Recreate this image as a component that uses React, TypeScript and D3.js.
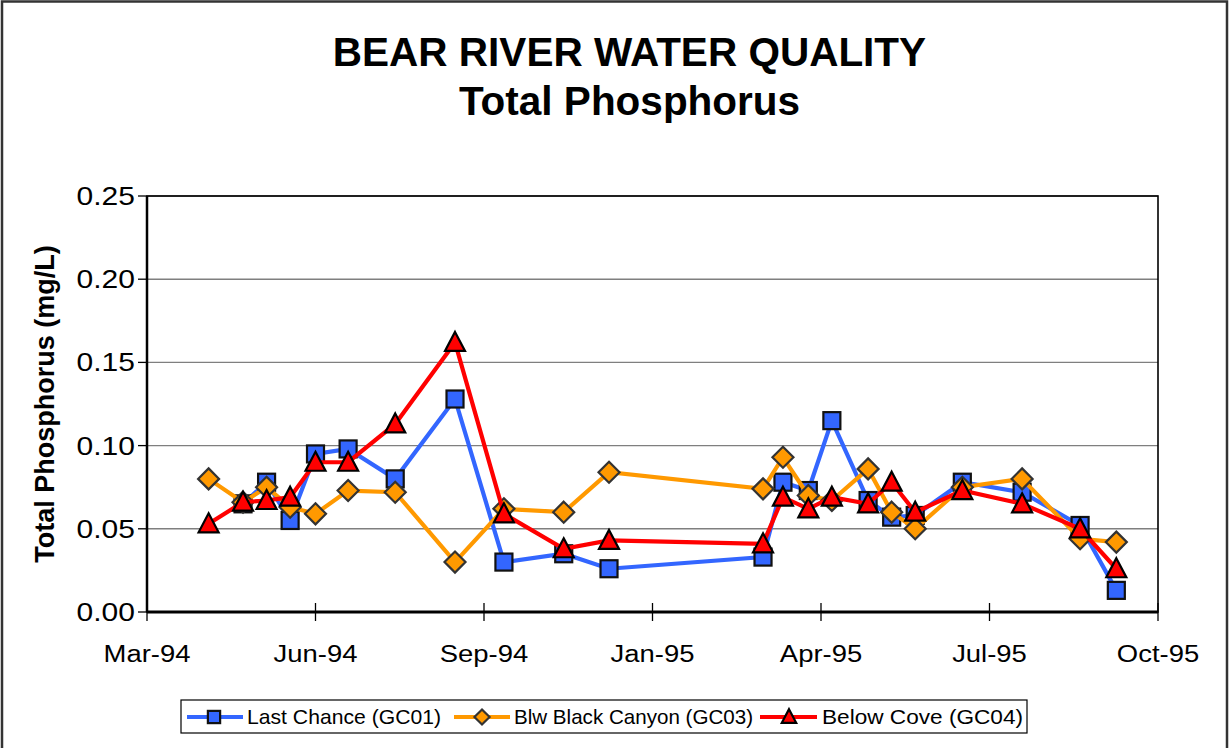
import React from "react";
import * as d3 from "d3";

// ---- Data ----
const lcDates = ["1994-05-20","1994-06-02","1994-06-15","1994-06-29","1994-07-17","1994-08-12","1994-09-14","1994-10-11","1994-11-13","1994-12-08","1995-03-03","1995-03-14","1995-03-28","1995-04-10","1995-04-30","1995-05-13","1995-05-26","1995-06-21","1995-07-24","1995-08-25","1995-09-14"];
const lcValues = [0.065,0.078,0.055,0.095,0.098,0.080,0.128,0.030,0.035,0.026,0.033,0.078,0.073,0.115,0.067,0.057,0.058,0.078,0.072,0.052,0.013];

const bbcDates = ["1994-05-01","1994-05-20","1994-06-02","1994-06-15","1994-06-29","1994-07-17","1994-08-12","1994-09-14","1994-10-11","1994-11-13","1994-12-08","1995-03-03","1995-03-14","1995-03-28","1995-04-10","1995-04-30","1995-05-13","1995-05-26","1995-06-21","1995-07-24","1995-08-25","1995-09-14"];
const bbcValues = [0.080,0.066,0.075,0.063,0.059,0.073,0.072,0.030,0.062,0.060,0.084,0.074,0.093,0.070,0.067,0.086,0.060,0.050,0.075,0.080,0.044,0.042];

const bcDates = ["1994-05-01","1994-05-20","1994-06-02","1994-06-15","1994-06-29","1994-07-17","1994-08-12","1994-09-14","1994-10-11","1994-11-13","1994-12-08","1995-03-03","1995-03-14","1995-03-28","1995-04-10","1995-04-30","1995-05-13","1995-05-26","1995-06-21","1995-07-24","1995-08-25","1995-09-14"];
const bcValues = [0.053,0.066,0.067,0.069,0.090,0.090,0.113,0.162,0.059,0.038,0.043,0.041,0.069,0.062,0.069,0.065,0.078,0.060,0.073,0.065,0.050,0.026];

const seriesNames = ["Last Chance (GC01)", "Blw Black Canyon (GC03)", "Below Cove (GC04)"];
const yTicks = [0, 0.05, 0.10, 0.15, 0.20, 0.25];
const xStart = "1994-03-28";
const xTickStepDays = 93;
const xTickCount = 7;

const FONT = "'Liberation Sans', Arial, Helvetica, sans-serif";

type Pt = { d: Date; v: number };
const parse = d3.utcParse("%Y-%m-%d");
const mk = (ds: string[], vs: number[]): Pt[] => ds.map((s, i) => ({ d: parse(s) as Date, v: vs[i] }));

const series = [
  { name: seriesNames[0], data: mk(lcDates, lcValues), color: "#3366FF", marker: "square" },
  { name: seriesNames[1], data: mk(bbcDates, bbcValues), color: "#FF9900", marker: "diamond" },
  { name: seriesNames[2], data: mk(bcDates, bcValues), color: "#FF0000", marker: "triangle" },
];

function Marker({ type, x, y, color, s = 1 }: { type: string; x: number; y: number; color: string; s?: number }) {
  if (type === "square") {
    const h = 8.5 * s;
    return <rect x={x - h} y={y - h} width={2 * h} height={2 * h} fill={color} stroke="#111" strokeWidth={2.2} />;
  }
  if (type === "diamond") {
    const h = 10.5 * s;
    return <path d={`M${x},${y - h}L${x + h},${y}L${x},${y + h}L${x - h},${y}Z`} fill={color} stroke="#333" strokeWidth={2.2} />;
  }
  const w = 10 * s, hh = 9.5 * s;
  return <path d={`M${x},${y - hh - 1}L${x + w},${y + hh - 1}L${x - w},${y + hh - 1}Z`} fill={color} stroke="#000" strokeWidth={2.2} strokeLinejoin="miter" />;
}

export default function App() {
  const W = 1229, H = 748;
  const L = 147, R = 1158, T = 196, B = 612;
  const t0 = parse(xStart) as Date;
  const tEnd = d3.utcDay.offset(t0, xTickStepDays * (xTickCount - 1));
  const x = d3.scaleUtc().domain([t0, tEnd]).range([L, R]);
  const y = d3.scaleLinear().domain([0, 0.25]).range([B, T]);
  const xTicks = d3.range(xTickCount).map((i) => d3.utcDay.offset(t0, i * xTickStepDays));
  const fmtX = d3.utcFormat("%b-%y");
  const fmtY = d3.format(".2f");
  const line = d3.line<Pt>().x((p) => x(p.d)).y((p) => y(p.v));

  const legendItems = [
    { lx1: 187, lx2: 243, mx: 214, tx: 247, tw: 194 },
    { lx1: 454, lx2: 510, mx: 482, tx: 514, tw: 239 },
    { lx1: 760, lx2: 817, mx: 789, tx: 822, tw: 201 },
  ];

  return (
    <svg width={W} height={H} style={{ position: "absolute", left: 0, top: 0 }} fontFamily={FONT}>
      <rect x={0} y={0} width={W} height={H} fill="#fff" />
      <rect x={2} y={1.5} width={1225} height={760} fill="none" stroke="#333" strokeWidth={2.5} />

      {/* Title */}
      <text x={629.5} y={66} textAnchor="middle" fontSize={40.5} fontWeight="bold">BEAR RIVER WATER QUALITY</text>
      <text x={629.5} y={115} textAnchor="middle" fontSize={40.5} fontWeight="bold">Total Phosphorus</text>

      {/* gridlines */}
      {yTicks.slice(1).map((t) => (
        <line key={t} x1={L} x2={R} y1={y(t)} y2={y(t)} stroke="#7f7f7f" strokeWidth={1.4} />
      ))}
      <rect x={L} y={T} width={R - L} height={B - T} fill="none" stroke="#000" strokeWidth={1.6} />

      {/* y axis */}
      <line x1={L} x2={L} y1={T} y2={B} stroke="#000" strokeWidth={2.5} />
      {yTicks.map((t) => (
        <g key={t}>
          <line x1={L - 9} x2={L} y1={y(t)} y2={y(t)} stroke="#000" strokeWidth={1.3} />
          <text transform={`translate(${L - 12},${y(t) + 9}) scale(1.2,1)`} textAnchor="end" fontSize={25}>{fmtY(t)}</text>
        </g>
      ))}
      <text transform={`translate(54,${(T + B) / 2 + 0}) rotate(-90)`} textAnchor="middle" fontSize={27} fontWeight="bold">Total Phosphorus (mg/L)</text>

      {/* x axis */}
      <line x1={L} x2={R} y1={B} y2={B} stroke="#000" strokeWidth={2.8} />
      {xTicks.map((t, i) => (
        <g key={i}>
          <line x1={x(t)} x2={x(t)} y1={B - 9} y2={B + 9} stroke="#000" strokeWidth={1.3} />
          <text transform={`translate(${x(t)},${662}) scale(1.12,1)`} textAnchor="middle" fontSize={24.5}>{fmtX(t)}</text>
        </g>
      ))}

      {/* series */}
      {series.map((s) => (
        <g key={s.name}>
          <path d={line(s.data) || ""} fill="none" stroke={s.color} strokeWidth={4.2} strokeLinejoin="miter" />
          {s.data.map((p, i) => (
            <Marker key={i} type={s.marker} x={x(p.d)} y={y(p.v)} color={s.color} />
          ))}
        </g>
      ))}

      {/* legend */}
      <rect x={181} y={700} width={846} height={33} fill="#fff" stroke="#000" strokeWidth={1.2} />
      {series.map((s, i) => {
        const it = legendItems[i];
        return (
          <g key={s.name}>
            <line x1={it.lx1} x2={it.lx2} y1={717} y2={717} stroke={s.color} strokeWidth={4.2} />
            <Marker type={s.marker} x={it.mx} y={717} color={s.color} s={0.72} />
            <text x={it.tx} y={724} fontSize={21} textLength={it.tw} lengthAdjust="spacingAndGlyphs">{s.name}</text>
          </g>
        );
      })}
    </svg>
  );
}
